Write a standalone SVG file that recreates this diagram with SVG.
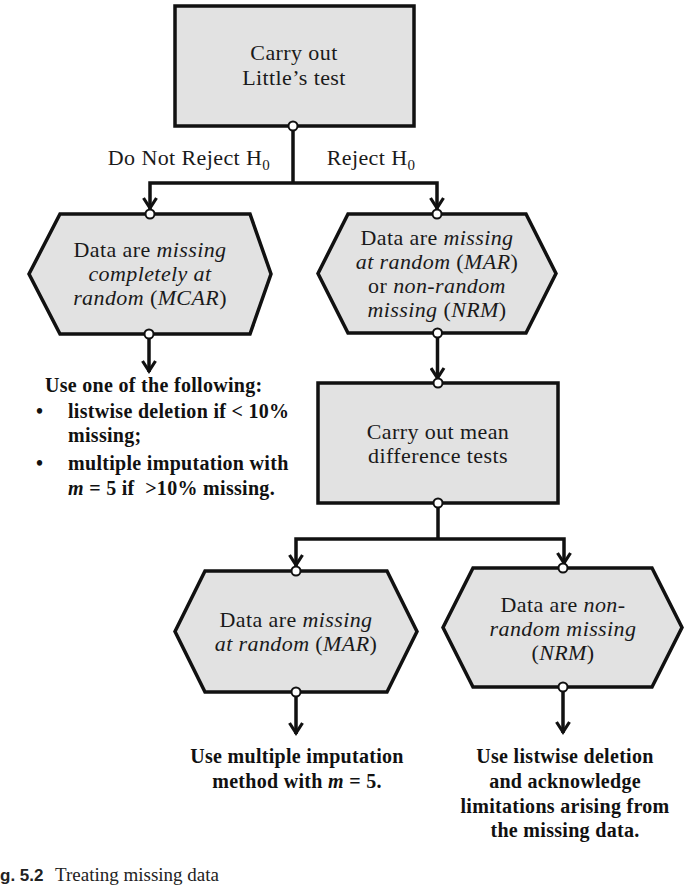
<svg xmlns="http://www.w3.org/2000/svg" width="686" height="885" viewBox="0 0 686 885">
<style>
.box{fill:#e2e2e2;stroke:#111;stroke-width:3.5}
.t{font-family:"Liberation Serif","Times New Roman",serif;font-size:22px;fill:#1a1a1a;text-anchor:middle;letter-spacing:0.4px}
.b{font-family:"Liberation Serif","Times New Roman",serif;font-size:20px;font-weight:bold;fill:#111;letter-spacing:0.3px}
.bc{text-anchor:middle}
.i{font-style:italic}
.c{fill:#fff;stroke:#111;stroke-width:2}
.ln{fill:none;stroke:#111;stroke-width:3.5;stroke-linejoin:miter}
</style>
<defs>
<marker id="ar" viewBox="-14 -8 16 16" markerWidth="16" markerHeight="16" refX="0" refY="0" orient="auto-start-reverse" markerUnits="userSpaceOnUse">
<path d="M -11 -6.5 L -1 0 L -11 6.5" fill="none" stroke="#111" stroke-width="3.2"/>
</marker>
</defs>
<rect width="686" height="885" fill="#fff"/>

<g id="connectors">
<path class="ln" d="M293 126 V183"/>
<path class="ln" d="M150 209 V183 H437 V209" marker-start="url(#ar)" marker-end="url(#ar)"/>
<path class="ln" d="M149 338 V372" marker-end="url(#ar)"/>
<path class="ln" d="M437.5 337 V379" marker-end="url(#ar)"/>
<path class="ln" d="M438 507 V539"/>
<path class="ln" d="M296 566 V539 H564 V564" marker-start="url(#ar)" marker-end="url(#ar)"/>
<path class="ln" d="M296 696 V734" marker-end="url(#ar)"/>
<path class="ln" d="M563 691 V733" marker-end="url(#ar)"/>
</g>

<g id="labels">
<text class="t" x="189" y="165">Do Not Reject H<tspan font-size="15" dy="5">0</tspan></text>
<text class="t" x="371" y="165">Reject H<tspan font-size="15" dy="5">0</tspan></text>
</g>

<g id="n1">
<rect class="box" x="175" y="6" width="239" height="120"/>
<text class="t" x="294" y="60">Carry out</text>
<text class="t" x="294" y="85">Little’s test</text>
<circle class="c" cx="293" cy="126" r="4.5"/>
</g>

<g id="n2">
<polygon class="box" points="60,214 250,214 271,274 250,334 60,334 29,274"/>
<text class="t" x="150" y="257">Data are <tspan class="i">missing</tspan></text>
<text class="t i" x="150" y="281">completely at</text>
<text class="t" x="150" y="305"><tspan class="i">random</tspan> (<tspan class="i">MCAR</tspan>)</text>
<circle class="c" cx="150" cy="214" r="4.5"/>
<circle class="c" cx="149" cy="334" r="4.5"/>
</g>

<g id="n3">
<polygon class="box" points="348,214 526,214 556,273.5 526,333 348,333 318,273.5"/>
<text class="t" x="437" y="245">Data are <tspan class="i">missing</tspan></text>
<text class="t" x="437" y="269"><tspan class="i">at random</tspan> (<tspan class="i">MAR</tspan>)</text>
<text class="t" x="437" y="293">or <tspan class="i">non-random</tspan></text>
<text class="t" x="437" y="317"><tspan class="i">missing</tspan> (<tspan class="i">NRM</tspan>)</text>
<circle class="c" cx="437" cy="214" r="4.5"/>
<circle class="c" cx="437.5" cy="333" r="4.5"/>
</g>

<g id="n4">
<text class="b" x="45" y="392">Use one of the following:</text>
<text class="b" x="36" y="418">•</text>
<text class="b" x="68" y="418">listwise deletion if &lt; 10%</text>
<text class="b" x="68" y="442">missing;</text>
<text class="b" x="36" y="470">•</text>
<text class="b" x="68" y="470">multiple imputation with</text>
<text class="b" x="68" y="495"><tspan class="i">m</tspan> = 5 if &#160;&gt;10% missing.</text>
</g>

<g id="n5">
<rect class="box" x="318" y="383" width="240" height="120"/>
<text class="t" x="438" y="439">Carry out mean</text>
<text class="t" x="438" y="463">difference tests</text>
<circle class="c" cx="438" cy="383" r="4.5"/>
<circle class="c" cx="438" cy="503" r="4.5"/>
</g>

<g id="n6">
<polygon class="box" points="205,571 387,571 417,631.5 387,692 205,692 175,631.5"/>
<text class="t" x="296" y="627">Data are <tspan class="i">missing</tspan></text>
<text class="t" x="296" y="651"><tspan class="i">at random</tspan> (<tspan class="i">MAR</tspan>)</text>
<circle class="c" cx="296" cy="571" r="4.5"/>
<circle class="c" cx="296" cy="692" r="4.5"/>
</g>

<g id="n7">
<polygon class="box" points="473,568 652,568 682,627.5 652,687 473,687 443,627.5"/>
<text class="t" x="563" y="612">Data are <tspan class="i">non-</tspan></text>
<text class="t i" x="563" y="636">random missing</text>
<text class="t" x="563" y="660">(<tspan class="i">NRM</tspan>)</text>
<circle class="c" cx="563" cy="568" r="4.5"/>
<circle class="c" cx="563" cy="687" r="4.5"/>
</g>

<g id="n8">
<text class="b bc" x="297" y="763">Use multiple imputation</text>
<text class="b bc" x="297" y="788">method with <tspan class="i">m</tspan> = 5.</text>
</g>

<g id="n9">
<text class="b bc" x="565" y="763">Use listwise deletion</text>
<text class="b bc" x="565" y="788">and acknowledge</text>
<text class="b bc" x="565" y="813">limitations arising from</text>
<text class="b bc" x="565" y="837">the missing data.</text>
</g>

<g id="caption">
<text x="0" y="881" font-family="'Liberation Sans',Arial,sans-serif" font-size="17" font-weight="bold" fill="#222">g. 5.2</text>
<text x="55" y="881" font-family="'Liberation Serif','Times New Roman',serif" font-size="19" fill="#222">Treating missing data</text>
</g>
</svg>
